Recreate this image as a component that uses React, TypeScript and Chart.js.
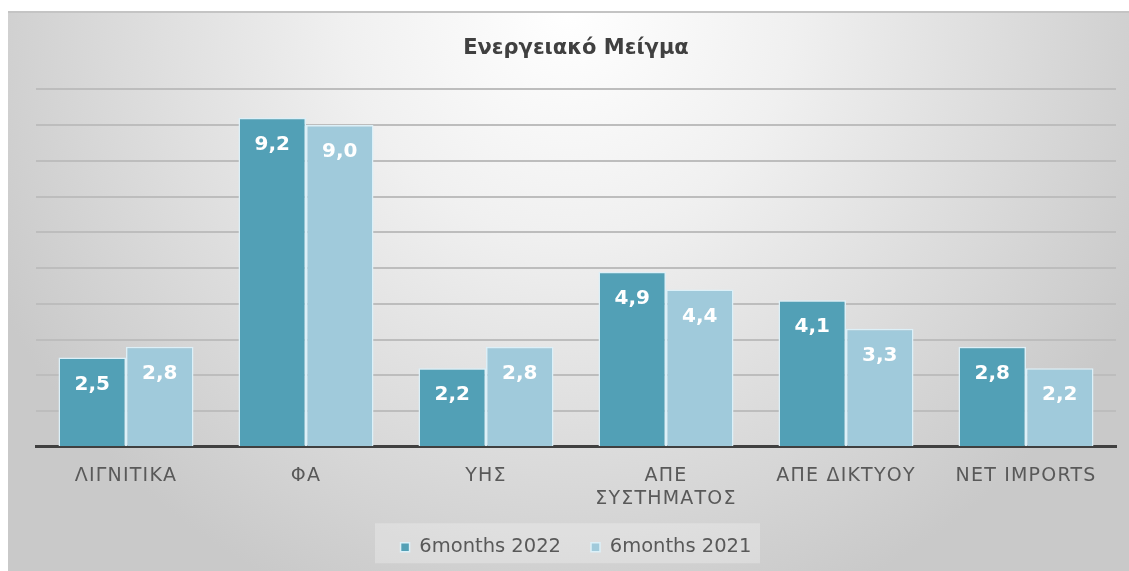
import React, { useEffect, useRef } from "react";
import { Chart, registerables } from "chart.js";

Chart.register(...registerables);

const categories: (string | string[])[] = [
  "ΛΙΓΝΙΤΙΚΑ",
  "ΦΑ",
  "ΥΗΣ",
  ["ΑΠΕ", "ΣΥΣΤΗΜΑΤΟΣ"],
  "ΑΠΕ ΔΙΚΤΥΟΥ",
  "NET IMPORTS",
];
const series2022 = [2.5, 9.2, 2.2, 4.9, 4.1, 2.8];
const series2021 = [2.8, 9.0, 2.8, 4.4, 3.3, 2.2];
const seriesNames = ["6months 2022", "6months 2021"];
const titleText = "Ενεργειακό Μείγμα";

const FONT = "'DejaVu Sans', Verdana, sans-serif";

const bgPlugin = {
  id: "bgPlugin",
  beforeDraw(chart: any) {
    const { ctx, width, height } = chart;
    ctx.save();
    const g = ctx.createRadialGradient(width / 2, 0, 0, width / 2, 0, 640);
    g.addColorStop(0, "#ffffff");
    g.addColorStop(0.35, "#f0f0f0");
    g.addColorStop(1, "#c9c9c9");
    ctx.fillStyle = g;
    ctx.fillRect(0, 0, width, height);
    ctx.fillStyle = "#c4c4c4";
    ctx.fillRect(0, 0, width, 2);
    const lg = chart.legend;
    if (lg) {
      const cx = lg.left + lg.width / 2;
      const hb = lg.legendHitBoxes && lg.legendHitBoxes[0];
      const cy = hb ? hb.top + hb.height / 2 : lg.top + lg.height / 2;
      ctx.fillStyle = "rgba(255,255,255,0.25)";
      ctx.fillRect(cx - 201, cy - 24, 385, 40);
    }
    // wider letter spacing for category labels
    const sx = chart.scales && chart.scales.x;
    if (sx && !sx._lsWrapped) {
      const orig = sx.drawLabels;
      sx.drawLabels = function (area: any) {
        const c = this.ctx;
        c.save();
        try { (c as any).letterSpacing = "1.2px"; } catch (e) {}
        orig.call(this, area);
        c.restore();
      };
      sx._lsWrapped = true;
    }
    ctx.restore();
  },
};

const labelPlugin = {
  id: "labelPlugin",
  afterDatasetsDraw(chart: any) {
    const { ctx } = chart;
    ctx.save();
    ctx.font = `bold 20px ${FONT}`;
    ctx.fillStyle = "#ffffff";
    ctx.textAlign = "center";
    ctx.textBaseline = "middle";
    chart.data.datasets.forEach((ds: any, i: number) => {
      const meta = chart.getDatasetMeta(i);
      meta.data.forEach((el: any, j: number) => {
        const v = ds.data[j] as number;
        ctx.fillText(v.toFixed(1).replace(".", ","), el.x, el.y + 27);
      });
    });
    ctx.restore();
  },
};

export default function App() {
  const ref = useRef<HTMLCanvasElement>(null);
  useEffect(() => {
    if (!ref.current) return;
    const chart = new Chart(ref.current, {
      type: "bar",
      data: {
        labels: categories,
        datasets: [
          {
            label: seriesNames[0],
            data: series2022,
            backgroundColor: "#52a0b6",
            borderColor: "#dcf0f8",
            borderWidth: 1.5,
          },
          {
            label: seriesNames[1],
            data: series2021,
            backgroundColor: "#a0cadb",
            borderColor: "#dcf0f8",
            borderWidth: 1.5,
          },
        ],
      },
      options: {
        animation: false,
        responsive: true,
        maintainAspectRatio: false,
        layout: { padding: { left: 28, right: 13, top: 14, bottom: 4 } },
        datasets: { bar: { categoryPercentage: 0.75, barPercentage: 1 } },
        scales: {
          x: {
            grid: { display: false },
            border: { display: true, color: "#404040", width: 3 },
            ticks: {
              color: "#595959",
              font: { family: FONT, size: 19 },
              padding: 10,
              maxRotation: 0,
            },
            afterFit(scale: any) {
              scale.height -= 13;
            },
          },
          y: {
            min: 0,
            max: 10,
            ticks: { display: false, stepSize: 1 },
            border: { display: false },
            grid: { color: "#bdbdbd", lineWidth: 2, drawTicks: false },
          },
        },
        plugins: {
          title: {
            display: true,
            text: titleText,
            color: "#404040",
            font: { family: FONT, size: 21, weight: "bold" },
            padding: { top: 11, bottom: 28 },
          },
          legend: {
            position: "bottom",
            labels: {
              color: "#595959",
              font: { family: FONT, size: 19.5 },
              boxWidth: 9,
              boxHeight: 9,
              padding: 30,
            },
          },
          tooltip: { enabled: false },
        },
      },
      plugins: [bgPlugin, labelPlugin],
    });
    return () => chart.destroy();
  }, []);
  return (
    <div style={{ position: "fixed", left: 8, top: 11, width: 1121, height: 560 }}>
      <canvas ref={ref} />
    </div>
  );
}
